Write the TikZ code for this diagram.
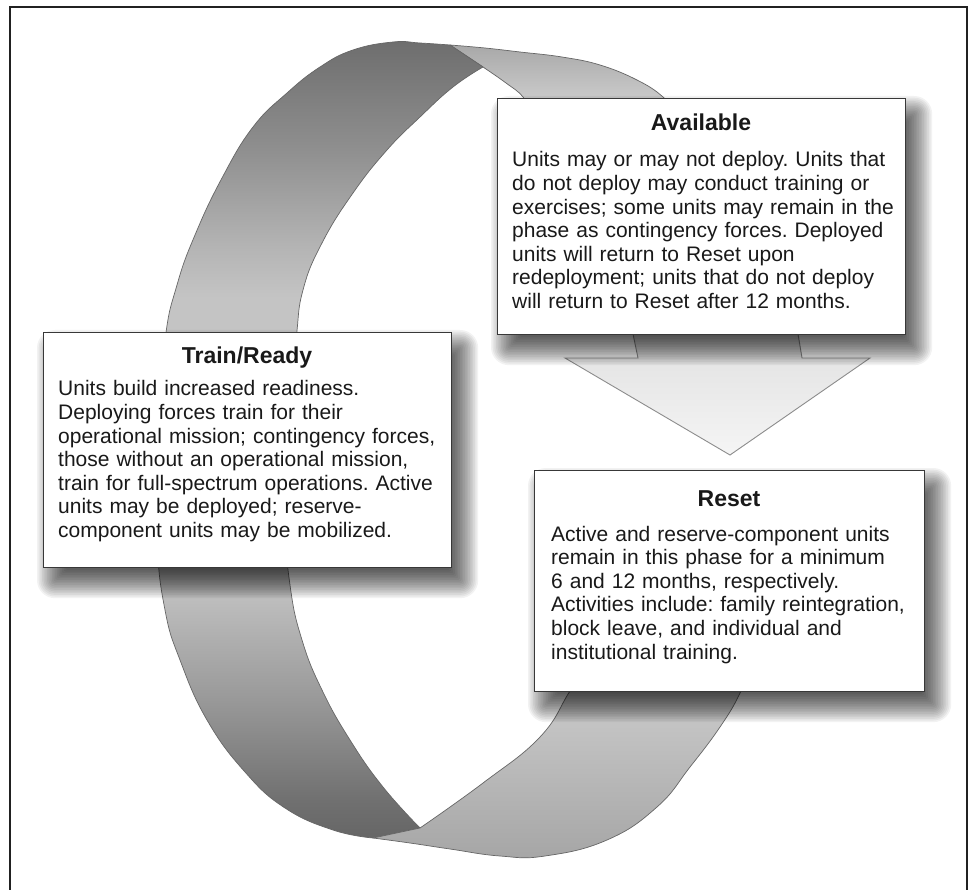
\documentclass[tikz,border=0pt]{standalone}
\usepackage{fontspec}
\setmainfont{Liberation Sans}
\usetikzlibrary{calc}
\frenchspacing
\definecolor{ls0}{gray}{0.40}
\definecolor{ls1}{gray}{0.44}
\definecolor{ls2}{gray}{0.60}
\definecolor{ls3}{gray}{0.74}
\definecolor{ls4}{gray}{0.77}
\definecolor{ls5}{gray}{0.71}
\definecolor{ls6}{gray}{0.56}
\definecolor{ls7}{gray}{0.43}
\definecolor{tbtop}{gray}{0.66}
\definecolor{tbbot}{gray}{0.84}
\definecolor{lrtop}{gray}{0.82}
\definecolor{lrbot}{gray}{0.65}
\definecolor{arrtop}{gray}{0.88}
\definecolor{arrbot}{gray}{0.96}
\definecolor{arredge}{gray}{0.55}
\definecolor{edgegray}{gray}{0.40}
\definecolor{boxline}{gray}{0.22}
\definecolor{frameline}{gray}{0.13}
\definecolor{txt}{gray}{0.10}
\pgfdeclareverticalshading{leftstrip}{100bp}{color(0bp)=(ls0); color(25bp)=(ls0); color(27.4bp)=(ls1); color(33.7bp)=(ls2); color(39.9bp)=(ls3); color(58.8bp)=(ls4); color(61.9bp)=(ls5); color(68.2bp)=(ls6); color(75bp)=(ls7); color(100bp)=(ls7)}
\pgfdeclarelayer{ribbonlayer}
\pgfdeclarelayer{shadowlayer}
\pgfsetlayers{ribbonlayer,shadowlayer,main}
\tikzset{
  ribbonedge/.style={draw=edgegray, line width=0.7pt, line join=round},
  phasebox/.style={rectangle, draw=boxline, line width=1.2pt, fill=white, inner sep=0pt, anchor=north west},
  phasetitle/.style={font=\bfseries\fontsize{23}{26}\selectfont, text=txt, inner sep=0pt, anchor=base},
  phasebody/.style={font=\fontsize{21}{23.6}\selectfont, text=txt, text width=400pt, align=left, inner sep=0pt, anchor=base west},
  frame/.style={draw=frameline, line width=1.3pt},
  shadowlayerstep/.style={fill=black, opacity=0.05}
}
% soft drop shadow under a named box node
\newcommand{\softshadow}[1]{%
  \begin{pgfonlayer}{shadowlayer}
  \foreach \k in {0,...,18}{%
    \pgfmathsetmacro{\sgrow}{-14+30*\k/18}%
    \pgfmathsetmacro{\rround}{max(\sgrow,0)+2}%
    \fill[shadowlayerstep, rounded corners=\rround pt]
      ($(#1.north west)+(10-\sgrow,14-\sgrow)$) rectangle ($(#1.south east)+(10+\sgrow,14+\sgrow)$);
  }%
  \end{pgfonlayer}}
\begin{document}
\begin{tikzpicture}[x=1pt, y=-1pt]
\useasboundingbox (0,0) rectangle (972,890);
\begin{pgfonlayer}{ribbonlayer}
\fill[white] (0,0) rectangle (972,890);
% ribbon: top back strip (light)
\shadedraw[ribbonedge, top color=tbtop, bottom color=tbbot]
  plot[smooth, tension=0.7] coordinates {(450,45) (485,48) (520,52) (562,57) (600,65) (637,80) (663,97) (680,118)}
  -- plot[smooth, tension=0.7] coordinates {(535,118) (523,97) (506,83) (483,67)} -- cycle;
% ribbon: left front strip (dark)
\shadedraw[ribbonedge, shading=leftstrip]
  plot[smooth, tension=0.75] coordinates {(450,45) (420,43) (393,42) (353,50) (320,67) (287,93) (253,127) (222,178) (195,235) (177,285) (165,340) (157,440) (157,540) (165,610) (180,660) (207,720) (245,772) (285,808) (333,830) (373,838)}
  -- plot[smooth, tension=0.75] coordinates {(420,828) (383,787) (350,740) (322,690) (302,640) (290,585) (284,510) (287,430) (296,340) (303,290) (322,243) (353,193) (387,150) (420,117) (453,87) (483,67)} -- cycle;
% ribbon: lower right strip (light)
\shadedraw[ribbonedge, top color=lrtop, bottom color=lrbot]
  plot[smooth, tension=0.75] coordinates {(373,838) (410,843) (450,849) (500,856) (545,856) (607,840) (657,807) (690,767) (720,727) (740,693) (752,660)}
  -- plot[smooth, tension=0.75] coordinates {(590,662) (570,691) (540,737) (483,783) (420,828)} -- cycle;
% block arrow from Available to Reset
\coordinate (arrowtip) at (730,455);
\shadedraw[draw=arredge, line width=0.9pt, line join=miter, top color=arrtop, bottom color=arrbot]
  (633,334) -- (638,358) -- (565,358) -- (arrowtip) -- (870,358) -- (802,358) -- (798,334) -- cycle;
\end{pgfonlayer}
% frame
\draw[frame] (10,900) -- (10,7) -- (967,7) -- (967,900);
% boxes
\node[phasebox, minimum width=408pt, minimum height=236pt] (avail) at (497,98) {};
\node[phasebox, minimum width=408pt, minimum height=235pt] (train) at (43,332) {};
\node[phasebox, minimum width=390pt, minimum height=221pt] (reset) at (534,470) {};
\softshadow{avail}
\softshadow{train}
\softshadow{reset}
% texts
\node[phasetitle] (availtitle) at (701,131) {Available};
\node[phasebody] (availtext) at (512,167) {Units may or may not deploy. Units that\\
do not deploy may conduct training or\\
exercises; some units may remain in the\\
phase as contingency forces. Deployed\\
units will return to Reset upon\\
redeployment; units that do not deploy\\
will return to Reset after 12 months.};
\node[phasetitle] (traintitle) at (247,364) {Train/Ready};
\node[phasebody] (traintext) at (58,396) {Units build increased readiness.\\
Deploying forces train for their\\
operational mission; contingency forces,\\
those without an operational mission,\\
train for full-spectrum operations. Active\\
units may be deployed; reserve-\\
component units may be mobilized.};
\node[phasetitle] (resettitle) at (729,506) {Reset};
\node[phasebody] (resettext) at (551,541) {Active and reserve-component units\\
remain in this phase for a minimum\\
6 and 12 months, respectively.\\
Activities include: family reintegration,\\
block leave, and individual and\\
institutional training.};
\end{tikzpicture}
\end{document}
